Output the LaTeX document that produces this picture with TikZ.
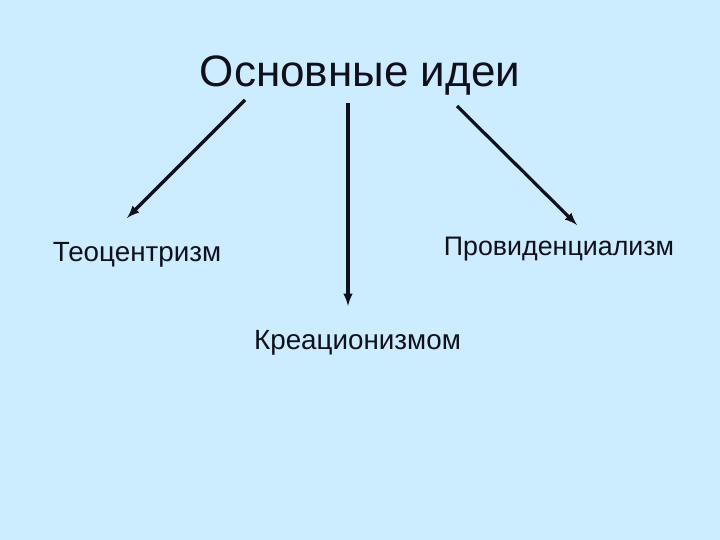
\documentclass[tikz,border=0pt]{standalone}
\usepackage{fontspec}
\setmainfont{Liberation Sans}
\definecolor{mypaleblue}{RGB}{204,236,255}
\definecolor{mydarkink}{RGB}{16,16,28}
\usetikzlibrary{arrows,positioning}
\tikzset{>=latex}

\begin{document}
\begin{tikzpicture}[x=1pt, y=-1pt, idea/.style = {anchor=base, inner sep=0pt, text=mydarkink, font=\fontsize{27.8}{30}\selectfont}, link/.style = {->, line width=3.2pt, mydarkink}]
    \fill[mypaleblue] (0,0) rectangle (720,540);
    \useasboundingbox (0,0) rectangle (720,540);
    \node[anchor=base, inner sep=0pt, text=mydarkink, font=\fontsize{44}{48}\selectfont] (title) at (360, 87) {Основные идеи};
    \node[idea] (teo) at (137, 261.5) {Теоцентризм};
    \node[idea, font=\fontsize{26.8}{30}\selectfont] (prov) at (559, 255.5) {Провиденциализм};
    \node[idea] (krea) at (357.5, 349.5) {Креационизмом};
    % arrow ends
    \coordinate (s1) at (245, 100);
    \coordinate (e1) at (127, 218);
    \coordinate (s2) at (348, 103);
    \coordinate (e2) at (348, 306);
    \coordinate (s3) at (457, 106);
    \coordinate (e3) at (577, 225);
    \draw[link] (s1) -- (e1);
    \draw[link] (s2) -- (e2);
    \draw[link] (s3) -- (e3);
\end{tikzpicture}
\end{document}
